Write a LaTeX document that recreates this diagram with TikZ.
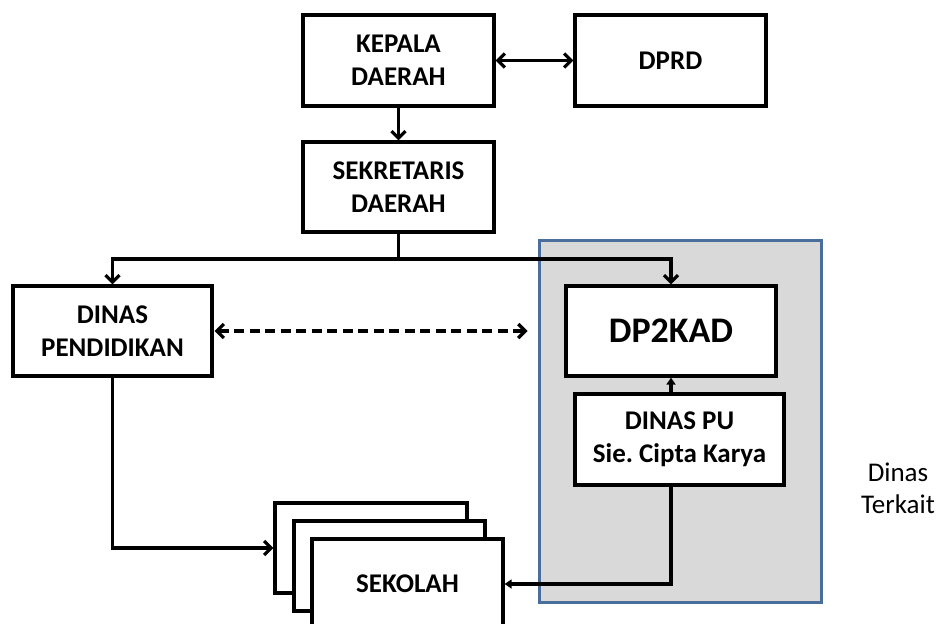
\documentclass[tikz,border=0pt]{standalone}
\usepackage{fontspec}
\setmainfont{Carlito}
\usetikzlibrary{arrows.meta}
\definecolor{grpfill}{HTML}{D9D9D9}
\definecolor{grpline}{HTML}{4A6E9C}
\begin{document}
\begin{tikzpicture}[x=1pt,y=-1pt,
  box/.style={draw=black, line width=3.3pt, fill=white, minimum width=191pt, minimum height=91pt,
    align=center, inner sep=0pt, font=\fontsize{27}{33}\selectfont\bfseries},
  conn/.style={line width=3.2pt, line join=miter},
  arr/.style={conn, -{Straight Barb[length=7pt,width=14pt]}},
  dbl/.style={conn, {Straight Barb[length=7pt,width=14pt]}-{Straight Barb[length=7pt,width=14pt]}},
  smarr/.style={conn, -{Triangle[length=7pt,width=9pt]}},
  plain/.style={font=\fontsize{27}{32}\selectfont, align=center, inner sep=0pt}
]
\clip (0,0) rectangle (941,623);
\fill[white] (0,0) rectangle (941,623);

% group background
\node[draw=grpline, fill=grpfill, line width=3pt, minimum width=282pt, minimum height=362pt, inner sep=0pt] (grp) at (680,421) {};

\node[box] (kepala) at (398.5,60.5) {KEPALA\\DAERAH};
\node[box] (dprd) at (670.5,60.5) {DPRD};
\node[box, minimum height=90pt] (sekr) at (398.5,187) {SEKRETARIS\\DAERAH};
\node[box, minimum width=199pt, minimum height=90pt] (dinasp) at (112.5,331) {DINAS\\PENDIDIKAN};
\node[box, minimum width=210pt, minimum height=90pt, font=\fontsize{36}{42}\selectfont\bfseries] (dp2kad) at (671,331) {DP2KAD};
\node[box, minimum width=209pt, minimum height=91pt] (dinaspu) at (679.5,439.5) {DINAS PU\\Sie.\ Cipta Karya};

% stacked SEKOLAH boxes
\node[box, minimum width=192pt, minimum height=90pt] (sek1) at (371,548) {};
\node[box, minimum width=191pt, minimum height=90pt] (sek2) at (389.5,566) {};
\node[box, minimum width=191pt, minimum height=90pt] (sek3) at (407.5,584) {SEKOLAH};

\node[plain] (terkait) at (898,488) {Dinas\\Terkait};

% connectors
\draw[dbl] (kepala.east) -- (dprd.west);
\draw[arr] (kepala.south) -- (sekr.north);
\coordinate (j) at (398.5,259);
\draw[conn] (sekr.south) -- (j);
\draw[arr] (j) -| (dinasp.north);
\draw[arr] (j) -| (dp2kad.north);
\draw[dbl, dash pattern=on 10pt off 5.5pt, shorten >=10pt, shorten <=1pt] (dinasp.east) -- (dinasp.east -| grp.west);
\draw[smarr] (dinaspu.north -| dp2kad.south) -- (dp2kad.south);
\draw[smarr] (dinaspu.south -| dp2kad.south) |- (sek3.east);
\draw[arr] (dinasp.south) |- (sek1.west);
\end{tikzpicture}
\end{document}
